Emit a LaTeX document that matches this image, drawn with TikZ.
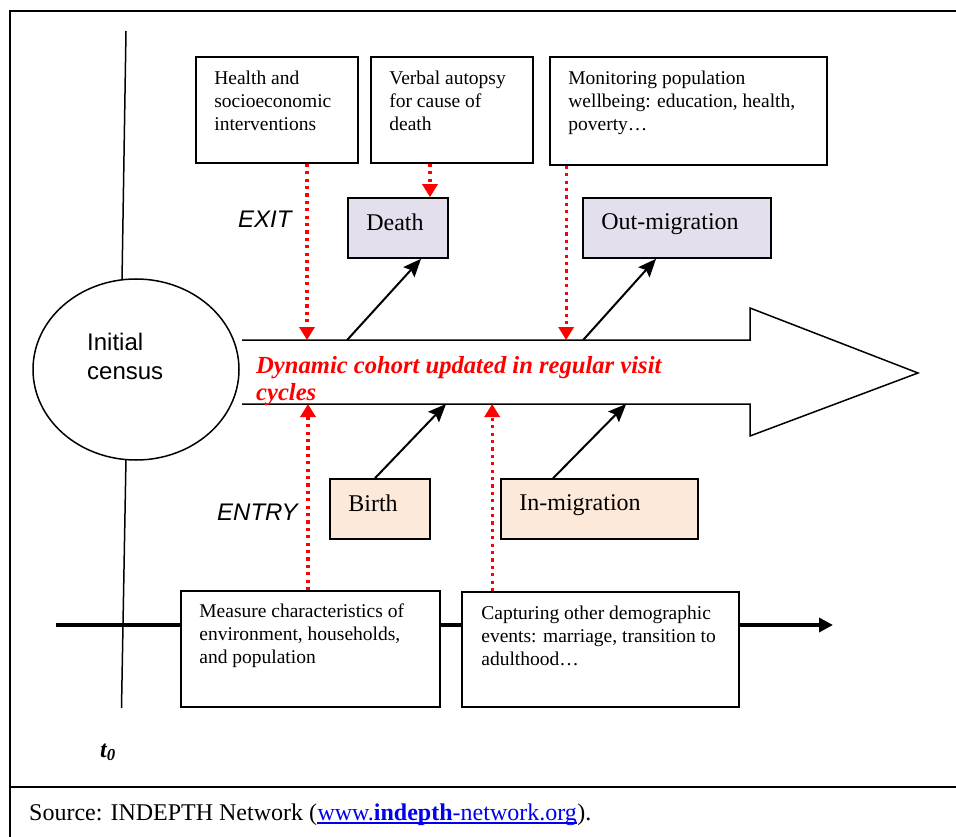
\documentclass[tikz,border=0pt]{standalone}
\usepackage{fontspec}
\setmainfont{Liberation Serif}
\setsansfont{Liberation Sans}
\usetikzlibrary{positioning, calc, arrows.meta, shapes.geometric}
\definecolor{exitfill}{RGB}{228, 223, 236}
\definecolor{entryfill}{RGB}{252, 233, 218}
\definecolor{probered}{RGB}{255, 0, 0}
\definecolor{linkblue}{RGB}{0, 0, 238}

\begin{document}
\begin{tikzpicture}[
    x=1pt, y=-1pt,
    font=\fontsize{19.5}{23}\selectfont,
    infobox/.style={draw=black, line width=1.7pt, fill=white, inner sep=0pt},
    exitbox/.style={infobox, fill=exitfill},
    entrybox/.style={infobox, fill=entryfill},
    infotext/.style={inner sep=0pt, align=left},
    eventtext/.style={inner sep=0pt, font=\fontsize{24}{28}\selectfont},
    phase/.style={inner sep=0pt, anchor=base west, font=\sffamily\itshape\fontsize{24}{28}\selectfont},
    plaintext/.style={inner sep=0pt, anchor=base west, font=\fontsize{24}{28}\selectfont},
    probe/.style={draw=probered, line width=3.2pt, dash pattern=on 3.2pt off 4.2pt, -{Triangle[length=13pt,width=15pt]}},
    flowedge/.style={-{Stealth[length=18pt,width=15pt,inset=3pt]}, line width=2pt},
    timeline/.style={line width=1.5pt},
    axisline/.style={line width=4.5pt, -{Triangle[length=14pt,width=14pt]}},
    panelline/.style={line width=1.4pt}
  ]
  \useasboundingbox (0,0) rectangle (956,837);

  % Frame
  \draw[panelline] (10,837) -- (10,11) -- (957,11);
  \draw[panelline] (10,787) -- (957,787);

  % Time axes
  \coordinate (axisStart) at (56,625);
  \coordinate (axisEnd) at (833,625);
  \draw[axisline] (axisStart) -- (axisEnd);
  \coordinate (tlTop) at (126,31);
  \coordinate (tlUpper) at (122,281);
  \coordinate (tlLower) at (126,458);
  \coordinate (tlBot) at (121.5,708);
  \draw[timeline] (tlTop) -- (tlUpper);
  \draw[timeline] (tlLower) -- (tlBot);

  % Initial census
  \node[draw, ellipse, line width=1.5pt, fill=white, inner sep=0pt, minimum width=206pt, minimum height=181pt] (census) at (136,369.5) {};
  \node[inner sep=0pt, anchor=north west, align=left, font=\sffamily\fontsize{24}{29}\selectfont] (censustext) at (87,333) {Initial\\census};

  % Cohort arrow
  \coordinate (ctopL) at (242,340);
  \coordinate (ctopR) at (750,340);
  \coordinate (cnotchT) at (750,308);
  \coordinate (ctip) at (918,373);
  \coordinate (cnotchB) at (750,436);
  \coordinate (cbotR) at (750,404);
  \coordinate (cbotL) at (242,404);
  \draw[line width=1.5pt, line join=miter] (ctopL) -- (ctopR) -- (cnotchT) -- (ctip) -- (cnotchB) -- (cbotR) -- (cbotL);
  \node[inner sep=0pt, anchor=north west, align=left, text=probered, font=\bfseries\itshape\fontsize{24.6}{27}\selectfont] (cohort) at (256,356) {Dynamic cohort updated in regular visit\\cycles};

  % Top boxes
  \node[infobox, minimum width=162pt, minimum height=106pt] (health) at (277,110) {};
  \node[infotext, below right=14.5pt and 19pt of health.north west] (healthtext) {Health and\\socioeconomic\\interventions};
  \node[infobox, minimum width=162pt, minimum height=106pt] (autopsy) at (452,110) {};
  \node[infotext, below right=14.5pt and 19pt of autopsy.north west] (autopsytext) {Verbal autopsy\\for cause of\\death};
  \node[infobox, minimum width=277pt, minimum height=108pt] (monitor) at (688.5,111) {};
  \node[infotext, below right=14.5pt and 19pt of monitor.north west] (monitortext) {Monitoring population\\wellbeing: education, health,\\poverty…};

  % Exit events
  \node[exitbox, minimum width=100pt, minimum height=60pt] (death) at (398,228) {};
  \node[eventtext, below right=16pt and 19pt of death.north west] (deathtext) {Death};
  \node[exitbox, minimum width=188pt, minimum height=60pt] (outmig) at (677,228) {};
  \node[eventtext, below right=16pt and 19pt of outmig.north west] (outmigtext) {Out-migration};
  \node[phase] (exit) at (238,228) {EXIT};

  % Entry events
  \node[entrybox, minimum width=100pt, minimum height=60pt] (birth) at (380,509) {};
  \node[eventtext, below right=16pt and 19pt of birth.north west] (birthtext) {Birth};
  \node[entrybox, minimum width=197pt, minimum height=60pt] (inmig) at (599.5,509) {};
  \node[eventtext, below right=16pt and 19pt of inmig.north west] (inmigtext) {In-migration};
  \node[phase] (entry) at (217,520) {ENTRY};

  % Bottom boxes
  \node[infobox, minimum width=259pt, minimum height=116pt] (measure) at (310.5,649) {};
  \node[infotext, below right=13.5pt and 19pt of measure.north west] (measuretext) {Measure characteristics of\\environment, households,\\and population};
  \node[infobox, minimum width=277pt, minimum height=115pt] (capture) at (600.5,649.5) {};
  \node[infotext, below right=14.5pt and 20pt of capture.north west] (capturetext) {Capturing other demographic\\events: marriage, transition to\\adulthood…};

  % Red links
  \draw[probe] ([xshift=30pt]health.south) -- ([xshift=30pt]health.south |- ctopL);
  \draw[probe] ([xshift=-22pt]autopsy.south) -- ([xshift=-22pt]autopsy.south |- death.north);
  \draw[probe] ([xshift=17pt]monitor.south west) -- ([xshift=17pt]monitor.south west |- ctopL);
  \draw[probe] ([xshift=-2.5pt]measure.north) -- ([xshift=-2.5pt]measure.north |- cbotL);
  \draw[probe] ([xshift=31pt]capture.north west) -- ([xshift=31pt]capture.north west |- cbotL);

  % Flows in and out
  \draw[flowedge] (death.south west |- ctopL) -- ([xshift=23pt]death.south);
  \draw[flowedge] ([xshift=1pt]outmig.south west |- ctopL) -- ([xshift=-21pt]outmig.south);
  \draw[flowedge] ([xshift=-5pt]birth.north) -- ([xshift=66pt]birth.north |- cbotL);
  \draw[flowedge] ([xshift=53pt]inmig.north west) -- ([xshift=126pt]inmig.north west |- cbotL);

  % Labels
  \node[inner sep=0pt, anchor=base west, font=\bfseries\itshape\fontsize{24}{28}\selectfont] (tzero) at (100,757) {t\textsubscript{0}};
  \node[plaintext] (source) at (29,820) {Source: INDEPTH Network (};
  \node[plaintext, text=linkblue] (link) at (source.base east) {www.\textbf{indepth}-network.org};
  \draw[linkblue, line width=1.2pt] ([yshift=-3pt]link.base west) -- ([yshift=-3pt]link.base east);
  \node[plaintext] (sourceend) at (link.base east) {).};
\end{tikzpicture}
\end{document}
